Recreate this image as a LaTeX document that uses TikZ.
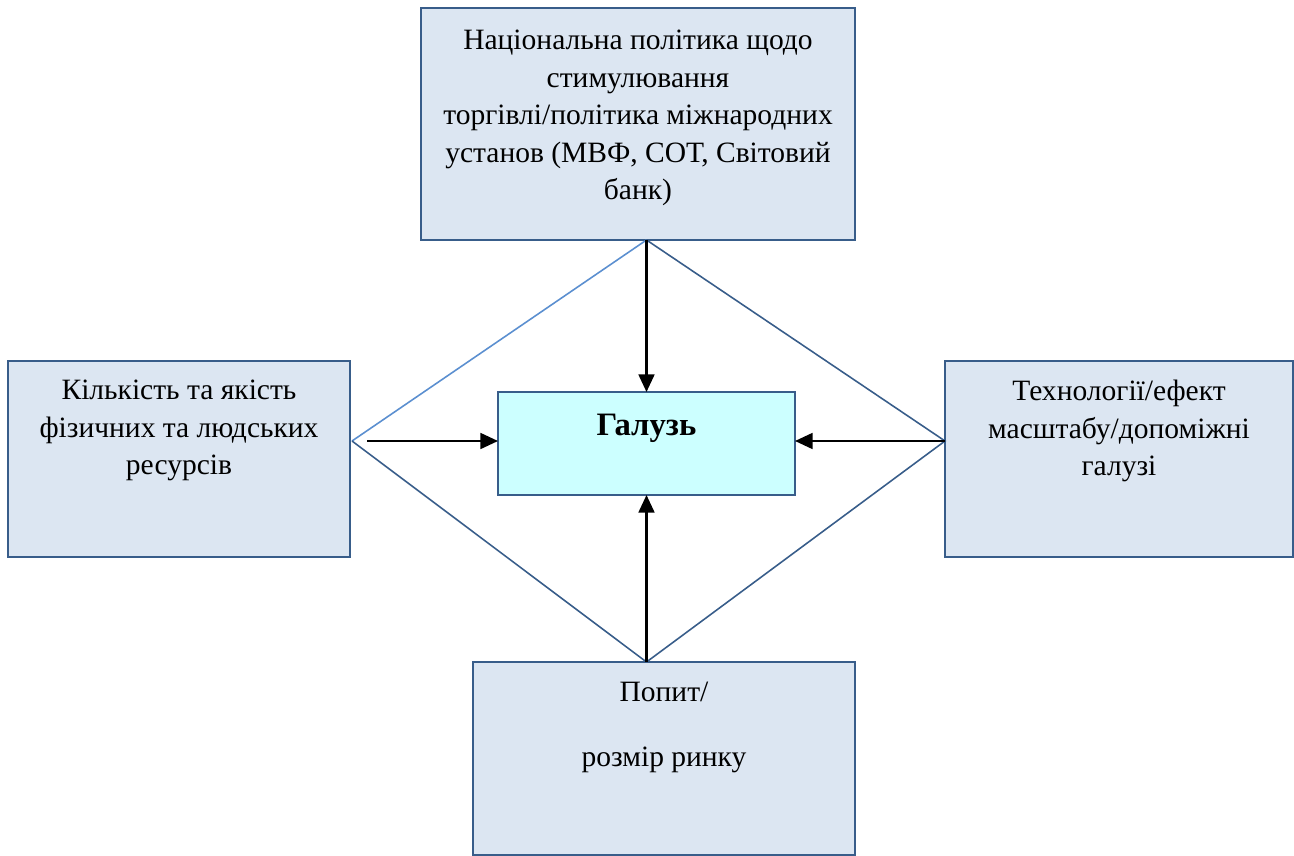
\documentclass[tikz,border=0pt]{standalone}
\usepackage{fontspec}
\setmainfont{Liberation Serif}
\usepackage{tikz}
\usetikzlibrary{positioning, arrows.meta}
\definecolor{boxfill}{HTML}{DCE6F2}
\definecolor{boxline}{HTML}{385D8A}
\definecolor{hubfill}{HTML}{CCFFFF}
\definecolor{rimlight}{HTML}{5B8FD0}

\begin{document}
\begin{tikzpicture}[>={Triangle[length=10pt, width=9pt]}]
    % Stili
    \tikzstyle{block} = [draw=boxline, line width=1.1pt, fill=boxfill, rectangle, outer sep=0pt]
    \tikzstyle{hub} = [block, fill=hubfill]
    \tikzstyle{txt} = [inner sep=0pt, align=center, font=\fontsize{16.8}{21.3}\selectfont]
    \tikzstyle{rim} = [draw=boxline, line width=0.9pt]
    \tikzstyle{link} = [->, line width=1.3pt]

    \useasboundingbox (0,0) rectangle (25.88,-17.12);

    % Blocchi
    \node [block, minimum width=8.68cm, minimum height=4.64cm] (policy) at (12.76,-2.48) {};
    \node [block, minimum width=6.84cm, minimum height=3.92cm] (res) at (3.58,-9.18) {};
    \node [block, minimum width=6.96cm, minimum height=3.92cm] (tech) at (22.38,-9.18) {};
    \node [block, minimum width=7.64cm, minimum height=3.86cm] (demand) at (13.28,-15.17) {};
    \node [hub, minimum width=5.94cm, minimum height=2.06cm] (ind) at (12.93,-8.87) {};

    % Testi
    \node [txt, below=0.44cm of policy.north] (policytxt) {Національна політика щодо\\ стимулювання\\ торгівлі/політика міжнародних\\ установ (МВФ, СОТ, Світовий\\ банк)};
    \node [txt, below=0.38cm of res.north] (restxt) {Кількість та якість\\ фізичних та людських\\ ресурсів};
    \node [txt, below=0.38cm of tech.north] (techtxt) {Технології/ефект\\ масштабу/допоміжні\\ галузі};
    \node [txt, below=0.4cm of demand.north] (demandtxt) {Попит/\\[0.55cm] розмір ринку};
    \node [txt, font=\fontsize{18.6}{22}\selectfont\bfseries, below=0.44cm of ind.north] (indtxt) {Галузь};

    % Rombo
    \coordinate (dtop) at (ind |- policy.south);
    \coordinate (dbot) at (ind |- demand.north);
    \coordinate (dleft) at ([xshift=0.04cm]res.east |- 0,-8.82);
    \coordinate (dright) at (tech.west |- 0,-8.82);
    \draw [rim, draw=rimlight] (dleft) -- (dtop);
    \draw [rim] (dtop) -- (dright) -- (dbot) -- (dleft);

    % Collegamenti
    \draw [link] (dtop) -- (ind.north);
    \draw [link] (dbot) -- (ind.south);
    \draw [link] ([xshift=0.3cm]dleft) -- (ind.west |- dleft);
    \draw [link] (dright) -- (ind.east |- dright);
\end{tikzpicture}
\end{document}
